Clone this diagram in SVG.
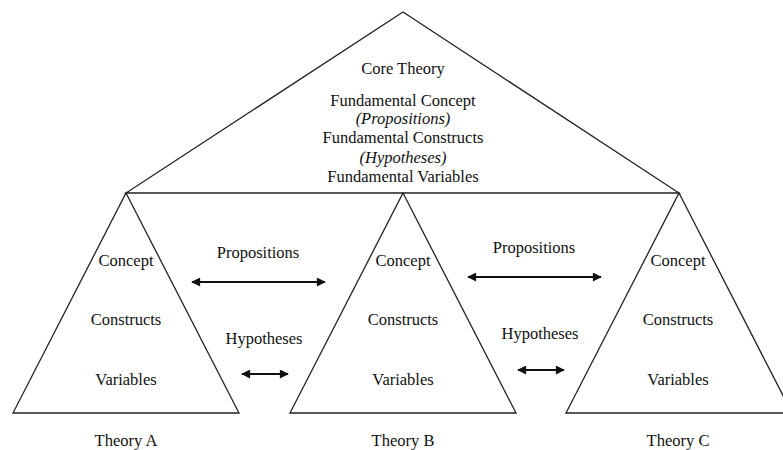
<svg xmlns="http://www.w3.org/2000/svg" width="783" height="450" viewBox="0 0 783 450">
<style>
text{font-size:16.5px;fill:#111;text-anchor:middle;dominant-baseline:central}
.it{font-style:italic}
.tri{fill:none;stroke:#222;stroke-width:1.3;stroke-linejoin:miter}
.arr{stroke:#111;stroke-width:2;fill:none;marker-start:url(#ah);marker-end:url(#ah)}
</style>
<defs>
<marker id="ah" viewBox="0 0 10 10" refX="9" refY="5" markerWidth="5.5" markerHeight="4.5" orient="auto-start-reverse" markerUnits="strokeWidth">
<path d="M0,0 L10,5 L0,10 z" fill="#111"/>
</marker>
</defs>
<rect width="783" height="450" fill="#fff"/>
<g font-family="'Liberation Serif', 'DejaVu Serif', serif">
<g id="core">
<polygon class="tri" points="403,12 679,193 126,193"/>
<text x="403" y="68">Core Theory</text>
<text x="403" y="100">Fundamental Concept</text>
<text x="403" y="118" class="it">(Propositions)</text>
<text x="403" y="137">Fundamental Constructs</text>
<text x="403" y="157" class="it">(Hypotheses)</text>
<text x="403" y="176">Fundamental Variables</text>
</g>
<g id="theoryA">
<polygon class="tri" points="126,193 239,413 13,413"/>
<text x="126" y="260">Concept</text>
<text x="126" y="319">Constructs</text>
<text x="126" y="379">Variables</text>
<text x="126" y="440">Theory A</text>
</g>
<g id="theoryB">
<polygon class="tri" points="403,193 516,413 290,413"/>
<text x="403" y="260">Concept</text>
<text x="403" y="319">Constructs</text>
<text x="403" y="379">Variables</text>
<text x="403" y="440">Theory B</text>
</g>
<g id="theoryC">
<polygon class="tri" points="679,193 792,413 566,413"/>
<text x="678" y="260">Concept</text>
<text x="678" y="319">Constructs</text>
<text x="678" y="379">Variables</text>
<text x="678" y="440">Theory C</text>
</g>
<g id="connectors">
<line class="arr" x1="192" y1="282" x2="325" y2="282"/>
<line class="arr" x1="242" y1="374" x2="288" y2="374"/>
<line class="arr" x1="468" y1="277" x2="601" y2="277"/>
<line class="arr" x1="518" y1="370" x2="564" y2="370"/>
<text x="258" y="252">Propositions</text>
<text x="264" y="338">Hypotheses</text>
<text x="534" y="247">Propositions</text>
<text x="540" y="333">Hypotheses</text>
</g>
</g>
</svg>
